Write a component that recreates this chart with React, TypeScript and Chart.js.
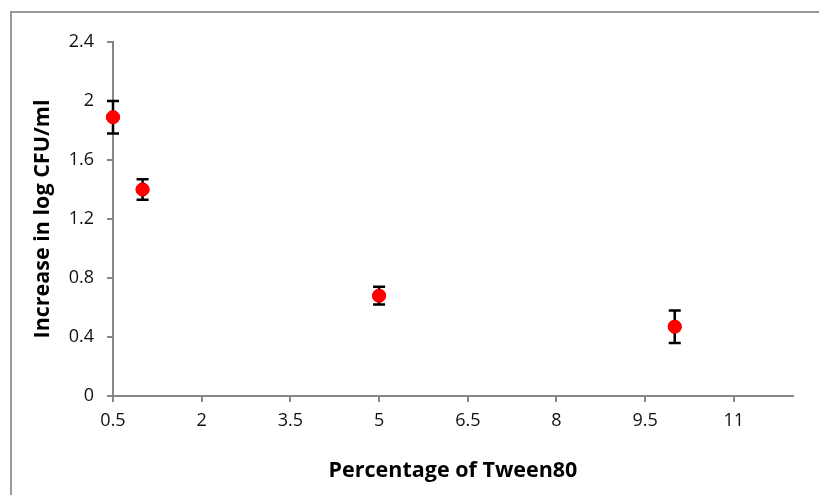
import React, { useEffect, useRef } from "react";
import { Chart, registerables } from "chart.js";

Chart.register(...registerables);

const tweenPercent = [0.5, 1, 5, 10];
const logIncrease = [1.89, 1.4, 0.68, 0.47];
const errorValues = [0.11, 0.07, 0.06, 0.11];
const xTickValues = [0.5, 2, 3.5, 5, 6.5, 8, 9.5, 11];
const yTickValues = [0, 0.4, 0.8, 1.2, 1.6, 2, 2.4];

const FONT = "'Open Sans', 'Liberation Sans', sans-serif";

const errorBarPlugin = {
  id: "errorBars",
  afterDatasetsDraw(chart: any) {
    const ctx = chart.ctx;
    const xs = chart.scales.x;
    const ys = chart.scales.y;
    ctx.save();
    ctx.strokeStyle = "#000000";
    ctx.lineWidth = 2.5;
    tweenPercent.forEach((xv, i) => {
      const px = xs.getPixelForValue(xv);
      const top = ys.getPixelForValue(logIncrease[i] + errorValues[i]);
      const bot = ys.getPixelForValue(logIncrease[i] - errorValues[i]);
      const cap = 6;
      ctx.beginPath();
      ctx.moveTo(px, top);
      ctx.lineTo(px, bot);
      ctx.moveTo(px - cap, top);
      ctx.lineTo(px + cap, top);
      ctx.moveTo(px - cap, bot);
      ctx.lineTo(px + cap, bot);
      ctx.stroke();
    });
    ctx.restore();
    const meta = chart.getDatasetMeta(0);
    meta.data.forEach((el: any) => el.draw(ctx));
  },
};

const borderPlugin = {
  id: "outerBorder",
  beforeDraw(chart: any) {
    const ctx = chart.ctx;
    ctx.save();
    ctx.fillStyle = "#ffffff";
    ctx.fillRect(0, 0, chart.width, chart.height);
    ctx.strokeStyle = "#9a9a9a";
    ctx.lineWidth = 2;
    ctx.beginPath();
    ctx.moveTo(11, chart.height + 5);
    ctx.lineTo(11, 12);
    ctx.lineTo(chart.width + 5, 12);
    ctx.stroke();
    ctx.restore();
  },
};

export default function App() {
  const ref = useRef<HTMLCanvasElement>(null);
  useEffect(() => {
    document.body.style.margin = "0";
    const chart = new Chart(ref.current as HTMLCanvasElement, {
      type: "scatter",
      data: {
        datasets: [
          {
            data: tweenPercent.map((x, i) => ({ x, y: logIncrease[i] })),
            backgroundColor: "#ff0000",
            borderColor: "#ff0000",
            pointRadius: 6.5,
            pointHoverRadius: 6.5,
            clip: false as any,
          },
        ],
      },
      options: {
        animation: false,
        responsive: false,
        layout: { padding: { left: 0, top: 42, right: 26, bottom: 0 } },
        plugins: { legend: { display: false }, tooltip: { enabled: false } },
        scales: {
          x: {
            type: "linear",
            min: 0.5,
            max: 12,
            afterBuildTicks(scale: any) {
              scale.ticks = xTickValues.map((v) => ({ value: v }));
            },
            afterFit(scale: any) {
              scale.height = 99;
            },
            grid: { drawOnChartArea: false, drawTicks: true, tickLength: 6, color: "#868686", lineWidth: 2 },
            border: { color: "#868686", width: 2 },
            ticks: {
              padding: 8,
              color: "#111111",
              font: { family: FONT, size: 18 },
              callback: (v: any) => String(v),
            },
            title: {
              display: true,
              text: "Percentage of Tween80",
              color: "#000000",
              font: { family: FONT, size: 21.5, weight: "bold" },
              padding: { top: 0, bottom: 11 },
            },
          },
          y: {
            type: "linear",
            min: 0,
            max: 2.4,
            afterBuildTicks(scale: any) {
              scale.ticks = yTickValues.map((v) => ({ value: v }));
            },
            afterFit(scale: any) {
              scale.width = 113;
            },
            grid: { drawOnChartArea: false, drawTicks: true, tickLength: 6, color: "#868686", lineWidth: 2 },
            border: { color: "#868686", width: 2 },
            ticks: {
              padding: 13,
              color: "#111111",
              font: { family: FONT, size: 18 },
              callback: (v: any) => String(v),
            },
            title: {
              display: true,
              text: "Increase in log CFU/ml",
              color: "#000000",
              font: { family: FONT, size: 21.5, weight: "bold" },
              padding: { top: 30, bottom: 0 },
            },
          },
        },
      },
      plugins: [borderPlugin, errorBarPlugin],
    });
    return () => chart.destroy();
  }, []);
  return (
    <div style={{ width: 819, height: 495 }}>
      <canvas ref={ref} width={819} height={495} style={{ display: "block" }} />
    </div>
  );
}
